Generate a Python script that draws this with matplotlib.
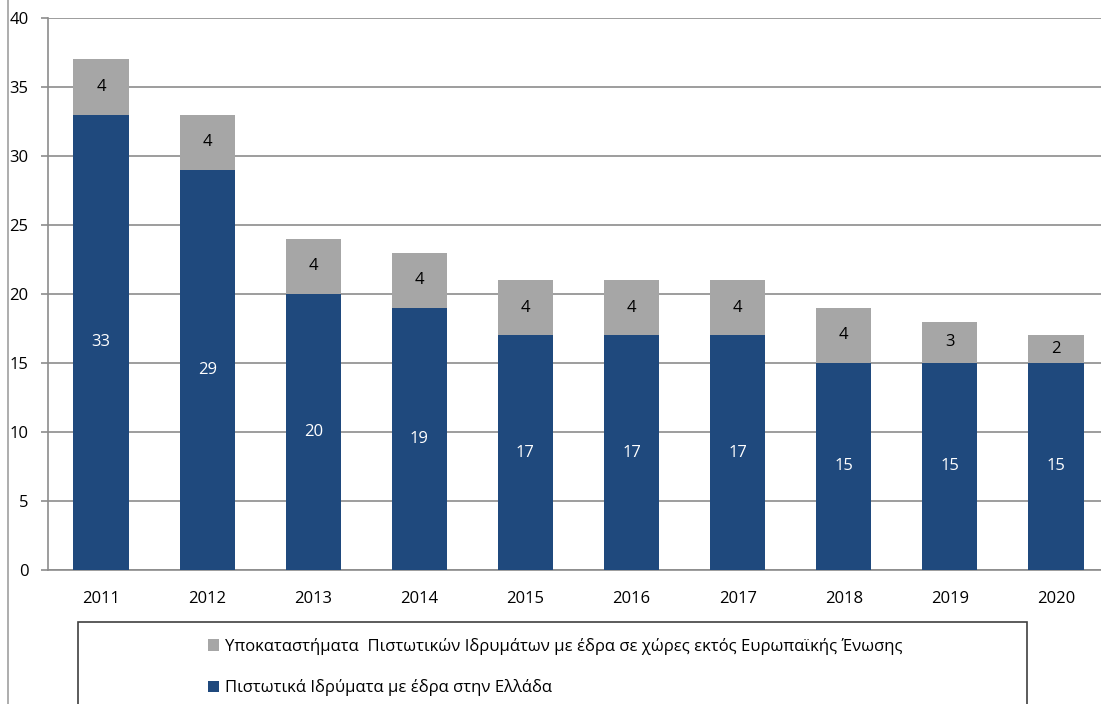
import matplotlib
matplotlib.use("Agg")
import matplotlib.pyplot as plt
from matplotlib.patches import Rectangle, Patch
from matplotlib.lines import Line2D

years = ["2011", "2012", "2013", "2014", "2015", "2016", "2017", "2018", "2019", "2020"]
greek_inst = [33, 29, 20, 19, 17, 17, 17, 15, 15, 15]
non_eu_branches = [4, 4, 4, 4, 4, 4, 4, 4, 3, 2]
label_greek = "Πιστωτικά Ιδρύματα με έδρα στην Ελλάδα"
label_branches = "Υποκαταστήματα  Πιστωτικών Ιδρυμάτων με έδρα σε χώρες εκτός Ευρωπαϊκής Ένωσης"

BLUE = "#1F497D"
GRAY = "#A6A6A6"
GRID = "#8C8C8C"

plt.rcParams['font.family'] = ['Open Sans', 'DejaVu Sans']
FS = 12
plt.rcParams['font.size'] = FS

W, H = 1101, 704
fig = plt.figure(figsize=(W / 100, H / 100), dpi=100)
ax = fig.add_axes([48 / W, 1 - 570 / H, (1109 - 48) / W, (570 - 18) / H])

x = list(range(len(years)))
b1 = ax.bar(x, greek_inst, width=0.52, color=BLUE, zorder=3)
b2 = ax.bar(x, non_eu_branches, width=0.52, bottom=greek_inst, color=GRAY, zorder=3)

for xi, g, n in zip(x, greek_inst, non_eu_branches):
    ax.text(xi, g / 2, str(g), ha='center', va='center', color='white', fontsize=FS, zorder=4)
    ax.text(xi, g + n / 2, str(n), ha='center', va='center', color='black', fontsize=FS, zorder=4)

ax.set_xlim(-0.5, len(years) - 0.5)
ax.set_ylim(0, 40)
ax.set_yticks(range(0, 41, 5))
ax.set_xticks(x)
ax.set_xticklabels(years)
ax.yaxis.grid(True, color=GRID, linewidth=1.2, zorder=0)
for s in ['top', 'right']:
    ax.spines[s].set_visible(False)
ax.spines['left'].set_color(GRID)
ax.spines['bottom'].set_color(GRID)
ax.spines['left'].set_linewidth(1.2)
ax.spines['bottom'].set_linewidth(1.2)
ax.tick_params(axis='y', length=5, color=GRID, width=1.2, pad=9, labelsize=FS)
ax.tick_params(axis='x', length=0, pad=15, labelsize=FS)

# figure left border line
fig.add_artist(Line2D([8 / W, 8 / W], [0, 1], color="#A0A0A0", linewidth=1.2, transform=fig.transFigure))

# legend frame
fig.add_artist(Rectangle((78 / W, -0.05), (1027 - 78) / W, (1 - 622 / H) + 0.05,
                         transform=fig.transFigure, fill=False, edgecolor="#404040", linewidth=1.2))
handles = [Patch(facecolor=GRAY), Patch(facecolor=BLUE)]
leg = fig.legend(handles, [label_branches, label_greek], loc='upper center',
                 bbox_to_anchor=(555 / W, 1 - 623 / H), frameon=False,
                 handlelength=0.7, handleheight=0.7, handletextpad=0.35,
                 labelspacing=1.45, alignment='left', fontsize=FS)

fig.savefig("out.png", dpi=100)
